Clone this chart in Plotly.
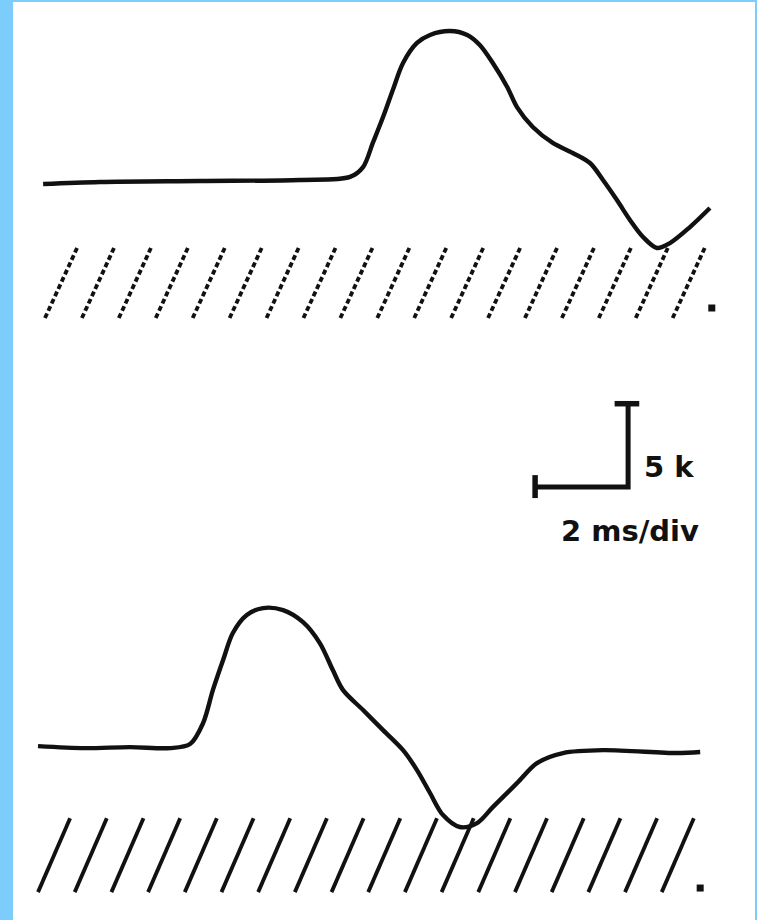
import plotly.graph_objects as go

# ---- data (time in ms, amplitude in k relative to each trace's baseline) ----
top_t = [-0.04, 1.18, 3.33, 5.48, 6.56, 6.84, 7.05, 7.27, 7.48, 7.70, 8.00, 8.28, 8.71,
         9.08, 9.35, 9.63, 9.94, 10.15, 10.49, 10.92, 11.35, 11.72, 12.00, 12.30, 12.58,
         12.86, 13.16, 13.44, 13.87, 14.30]
top_v = [-0.18, -0.06, 0.0, 0.06, 0.24, 0.82, 2.24, 3.76, 5.35, 6.94, 8.12, 8.59, 8.82,
         8.59, 8.00, 6.94, 5.53, 4.35, 3.18, 2.24, 1.65, 1.06, 0.06, -1.12, -2.29,
         -3.29, -3.94, -3.65, -2.71, -1.59]

bot_t = [-0.15, 0.86, 1.83, 2.69, 3.12, 3.40, 3.61, 3.83, 4.04, 4.34, 4.69, 5.12, 5.55,
         5.91, 6.19, 6.41, 6.84, 7.27, 7.70, 8.00, 8.28, 8.56, 8.92, 9.29, 9.63, 10.15,
         10.58, 11.14, 12.00, 13.59, 14.09]
bot_v = [0.0, -0.12, -0.06, -0.12, 0.12, 1.35, 3.29, 5.06, 6.65, 7.71, 8.12, 8.00, 7.29,
         6.06, 4.47, 3.29, 2.12, 0.94, -0.24, -1.41, -2.76, -4.06, -4.76, -4.53, -3.59, -2.18,
         -1.00, -0.41, -0.24, -0.41, -0.35]

TOP_OFFSET = 0.0
BOT_OFFSET = -33.24

scale_ms = 2      # horizontal scale bar length (ms)
scale_k = 5       # vertical scale bar length (k)
label_k = "5 k"
label_ms = "2 ms/div"

# ground hatch rows
hatch_rows = [
    dict(t0=0.0, off=TOP_OFFSET, n=18, step=0.794, lo=-8.06, hi=-3.94, dash="5px,3px", dot=(14.34, -7.47)),
    dict(t0=-0.15, off=BOT_OFFSET, n=18, step=0.789, lo=-8.59, hi=-4.24, dash="solid", dot=(14.09, -8.35)),
]
SLANT = 0.69  # ms of lean per slash

INK = "#111111"
BLUE = "#7ccdfb"

fig = go.Figure()

# waveforms
for tt, vv, off in [(top_t, top_v, TOP_OFFSET), (bot_t, bot_v, BOT_OFFSET)]:
    fig.add_trace(go.Scatter(x=tt, y=[v + off for v in vv], mode="lines",
                             line=dict(color=INK, width=4.4, shape="spline", smoothing=0.9),
                             hoverinfo="skip", showlegend=False))

# hatching
for row in hatch_rows:
    xs, ys = [], []
    for i in range(row["n"]):
        tb = row["t0"] + i * row["step"]
        xs += [tb, tb + SLANT, None]
        ys += [row["lo"] + row["off"], row["hi"] + row["off"], None]
    fig.add_trace(go.Scatter(x=xs, y=ys, mode="lines",
                             line=dict(color=INK, width=3.8, dash=row["dash"]),
                             hoverinfo="skip", showlegend=False))
    fig.add_trace(go.Scatter(x=[row["dot"][0]], y=[row["dot"][1] + row["off"]], mode="markers",
                             marker=dict(color=INK, size=7, symbol="square"),
                             hoverinfo="skip", showlegend=False))

# scale bar
sb_t, sb_y = 10.54, -18.0
fig.add_trace(go.Scatter(x=[sb_t, sb_t + scale_ms, sb_t + scale_ms],
                         y=[sb_y, sb_y, sb_y + scale_k], mode="lines",
                         line=dict(color=INK, width=5), hoverinfo="skip", showlegend=False))
fig.add_trace(go.Scatter(x=[sb_t + scale_ms - 0.29, sb_t + scale_ms + 0.24, None, sb_t, sb_t],
                         y=[sb_y + scale_k - 0.1, sb_y + scale_k - 0.1, None, sb_y + 0.7, sb_y - 0.65],
                         mode="lines", line=dict(color=INK, width=5.5),
                         hoverinfo="skip", showlegend=False))

fig.add_annotation(x=sb_t + scale_ms + 0.3, y=sb_y + 1.15, text=label_k, showarrow=False,
                   xanchor="left", yanchor="middle",
                   font=dict(family="DejaVu Sans", size=29, color=INK, weight="bold"))
fig.add_annotation(x=sb_t + 2.05, y=sb_y - 2.6, text=label_ms, showarrow=False,
                   xanchor="center", yanchor="middle",
                   font=dict(family="DejaVu Sans", size=29, color=INK, weight="bold"))

fig.update_xaxes(range=[-0.688, 15.269], visible=False, fixedrange=True)
fig.update_yaxes(range=[-43.47, 10.53], visible=False, fixedrange=True)
fig.update_layout(width=757, height=920, autosize=False,
                  margin=dict(l=13, r=2, t=2, b=0, pad=0),
                  paper_bgcolor=BLUE, plot_bgcolor="white")

fig.write_html("out.html", config={"displayModeBar": False})
